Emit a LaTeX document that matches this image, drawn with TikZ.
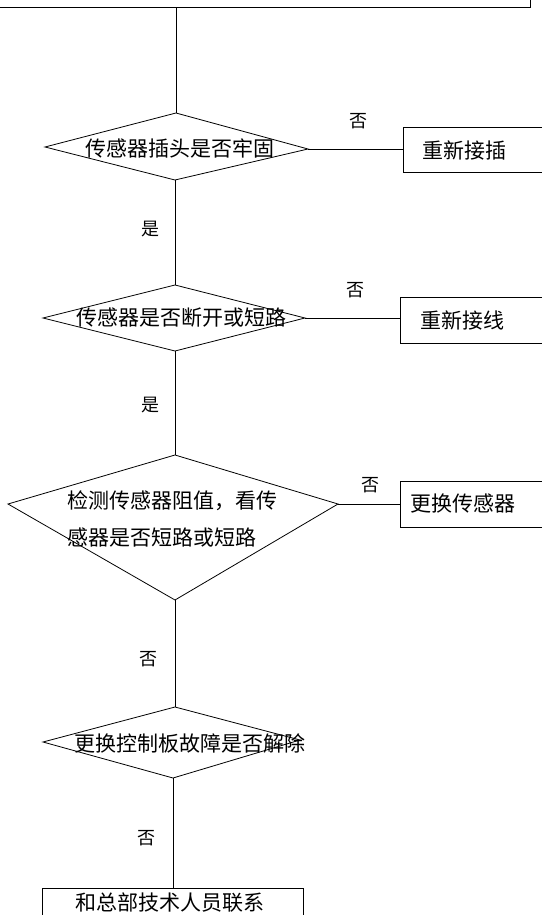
\documentclass[tikz,border=0pt]{standalone}
\usepackage{fontspec}
\newfontfamily\cjk{Noto Sans CJK SC}
\begin{document}
\begin{tikzpicture}[x=1pt,y=-1pt, line width=0.8pt,
  txt/.style={inner sep=0pt, font=\cjk\fontsize{21}{25}\selectfont},
  lab/.style={inner sep=0pt, font=\cjk\fontsize{18}{20}\selectfont},
  boxst/.style={draw, inner sep=0pt, anchor=north west}]
\useasboundingbox (0,0) rectangle (541,915);

% top box (mostly outside the page)
\node[draw, inner sep=0pt, minimum width=560pt, minimum height=40pt, anchor=south east] (top) at (531,8) {};

% diamonds
\coordinate (d1n) at (176,113); \coordinate (d1e) at (308,149);
\coordinate (d1s) at (175,180); \coordinate (d1w) at (45,147);
\coordinate (d2n) at (175,285); \coordinate (d2e) at (305,318);
\coordinate (d2s) at (175,351); \coordinate (d2w) at (43,318);
\coordinate (d3n) at (175,455); \coordinate (d3e) at (338,504);
\coordinate (d3s) at (175,600); \coordinate (d3w) at (8,504);
\coordinate (d4n) at (175,707); \coordinate (d4e) at (300,740);
\coordinate (d4s) at (173,778); \coordinate (d4w) at (43,742);
\draw (d1n) -- (d1e) -- (d1s) -- (d1w) -- cycle;
\draw (d2n) -- (d2e) -- (d2s) -- (d2w) -- cycle;
\draw (d3n) -- (d3e) -- (d3s) -- (d3w) -- cycle;
\draw (d4n) -- (d4e) -- (d4s) -- (d4w) -- cycle;

% boxes
\node[boxst, minimum width=150pt, minimum height=45pt] (b1) at (403,127) {};
\node[boxst, minimum width=150pt, minimum height=46pt] (b2) at (400,297) {};
\node[boxst, minimum width=150pt, minimum height=46pt] (b3) at (400,481) {};
\node[boxst, minimum width=261pt, minimum height=50pt] (b4) at (42,888) {};

% texts
\node[txt] (t1) at (180,149) {传感器插头是否牢固};
\node[txt] (t2) at (181,318) {传感器是否断开或短路};
\node[txt, anchor=west] (t3a) at (67,501) {检测传感器阻值，看传};
\node[txt, anchor=west] (t3b) at (67,538) {感器是否短路或短路};
\node[txt] (t4) at (190,743) {更换控制板故障是否解除};
\node[txt] (tb1) at (464,150) {重新接插};
\node[txt] (tb2) at (462,320) {重新接线};
\node[txt] (tb3) at (463,504) {更换传感器};
\node[txt] (tb4) at (170,903) {和总部技术人员联系};

% connectors
\draw (top.south -| d1n) -- (d1n);
\draw (d1e) -- (d1e -| b1.west);
\draw (d1s) -- (d2n);
\draw (d2e) -- (d2e -| b2.west);
\draw (d2s) -- (d3n);
\draw (d3e) -- (d3e -| b3.west);
\draw (d3s) -- (d4n);
\draw (d4s) -- (d4s |- b4.north);

% labels
\node[lab] (l1) at (358,121) {否};
\node[lab] (l2) at (150,229) {是};
\node[lab] (l3) at (355,290) {否};
\node[lab] (l4) at (150,405) {是};
\node[lab] (l5) at (370,485) {否};
\node[lab] (l6) at (148,659) {否};
\node[lab] (l7) at (146,838) {否};
\end{tikzpicture}
\end{document}
